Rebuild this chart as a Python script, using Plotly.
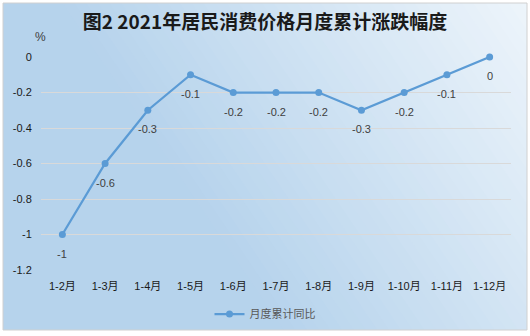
import plotly.graph_objects as go

categories = ["1-2月", "1-3月", "1-4月", "1-5月", "1-6月", "1-7月", "1-8月", "1-9月", "1-10月", "1-11月", "1-12月"]
values = [-1, -0.6, -0.3, -0.1, -0.2, -0.2, -0.2, -0.3, -0.2, -0.1, 0]
value_labels = ["-1", "-0.6", "-0.3", "-0.1", "-0.2", "-0.2", "-0.2", "-0.3", "-0.2", "-0.1", "0"]
y_tickvals = [0, -0.2, -0.4, -0.6, -0.8, -1, -1.2]
y_ticktext = ["0", "-0.2", "-0.4", "-0.6", "-0.8", "-1", "-1.2"]
series_name = "月度累计同比"
title_text = "图2 2021年居民消费价格月度累计涨跌幅度"

W, H = 530, 336
L, R, T, B = 41, 19, 57, 66
PW, PH = W - L - R, H - T - B

def px2paper(px, py):
    return (px - L) / PW, (H - B - py) / PH

def mix(c1, c2, f):
    f = max(0.0, min(1.0, f))
    return "rgb(%d,%d,%d)" % tuple(round(a + (b - a) * f) for a, b in zip(c1, c2))

base = (182, 211, 236)
light = (238, 245, 251)

shapes = []
x0, y0 = px2paper(3, 3)
x1, y1 = px2paper(527, 330)
shapes.append(dict(type="rect", xref="paper", yref="paper", x0=x0, y0=y1, x1=x1, y1=y0,
                   fillcolor=mix(base, light, 0), line=dict(width=0), layer="below"))

def xt(t, y):
    return (t - 0.3 + 0.3 * y / 336) * 530 / 0.7

n = 40
ts = [0.38 + i * (1.0 - 0.38) / n for i in range(n + 1)] + [2.0]
for i in range(len(ts) - 1):
    ta, tb = ts[i], ts[i + 1]
    f = (((ta + tb) / 2) - 0.38) / (1.0 - 0.38)
    pts = [(xt(ta, -60), -60), (xt(tb + 0.004, -60), -60), (xt(tb + 0.004, 400), 400), (xt(ta, 400), 400)]
    pp = [px2paper(a, b) for a, b in pts]
    path = "M " + " L ".join("%.5f,%.5f" % p for p in pp) + " Z"
    shapes.append(dict(type="path", xref="paper", yref="paper", path=path,
                       fillcolor=mix(base, light, f), line=dict(width=0), layer="below"))

for (a, b, c, d) in [(-10, -10, 3, 346), (527, -10, 540, 346), (-10, -10, 540, 3), (-10, 330, 540, 346)]:
    xa, ya = px2paper(a, b)
    xb, yb = px2paper(c, d)
    shapes.append(dict(type="rect", xref="paper", yref="paper", x0=xa, y0=yb, x1=xb, y1=ya,
                       fillcolor="white", line=dict(width=0), layer="below"))
shapes.append(dict(type="rect", xref="paper", yref="paper", x0=x0, y0=y1, x1=x1, y1=y0,
                   fillcolor="rgba(0,0,0,0)", line=dict(width=1, color="#d0d0d0"), layer="below"))

fig = go.Figure()
fig.add_trace(go.Scatter(
    x=categories, y=values, mode="lines+markers", name=series_name,
    line=dict(color="#5b9bd5", width=2.25),
    marker=dict(color="#5b9bd5", size=7),
    cliponaxis=False,
))

annotations = []
for c, v, t in zip(categories, values, value_labels):
    annotations.append(dict(x=c, y=v, xref="x", yref="y", text=t, showarrow=False,
                            yshift=-19, font=dict(size=11, color="#404040", family="Liberation Sans, Arial")))
ax, ay = px2paper(40, 37)
annotations.append(dict(x=ax, y=ay, xref="paper", yref="paper", text="%", showarrow=False,
                        xanchor="center", yanchor="middle",
                        font=dict(size=12, color="#404040", family="Liberation Sans, Arial")))

lx, ly = px2paper(265, 314)

fig.update_layout(
    width=W, height=H,
    margin=dict(l=L, r=R, t=T, b=B, autoexpand=False),
    paper_bgcolor="white",
    plot_bgcolor="rgba(0,0,0,0)",
    shapes=shapes,
    annotations=annotations,
    title=dict(text="<b>" + title_text + "</b>", x=0.5, xref="container", xanchor="center",
               y=1 - 22 / H, yref="container", yanchor="middle",
               font=dict(size=19, color="#1a1a1a", family="Noto Sans CJK SC")),
    showlegend=True,
    legend=dict(orientation="h", x=lx, xref="paper", xanchor="center",
                y=ly, yref="paper", yanchor="middle",
                bgcolor="rgba(0,0,0,0)",
                font=dict(size=11, color="#595959", family="Noto Sans CJK SC")),
    font=dict(family="Liberation Sans, Noto Sans CJK SC", color="#404040", size=11),
)
fig.update_xaxes(
    type="category", showgrid=False, zeroline=False, showline=False,
    ticks="outside", ticklen=6, tickcolor="rgba(0,0,0,0)",
    tickfont=dict(size=11, color="#1a1a1a", family="Liberation Sans, Noto Sans CJK SC"),
    range=[-0.5, len(categories) - 0.5],
)
fig.update_yaxes(
    range=[-1.2, 0], tickvals=y_tickvals, ticktext=y_ticktext,
    showgrid=True, gridcolor="#d9d9d9", gridwidth=1, zeroline=False, showline=False,
    ticks="outside", ticklen=6, tickcolor="rgba(0,0,0,0)",
    tickfont=dict(size=11, color="#1a1a1a", family="Liberation Sans, Arial"),
)
fig.write_html("out.html")
